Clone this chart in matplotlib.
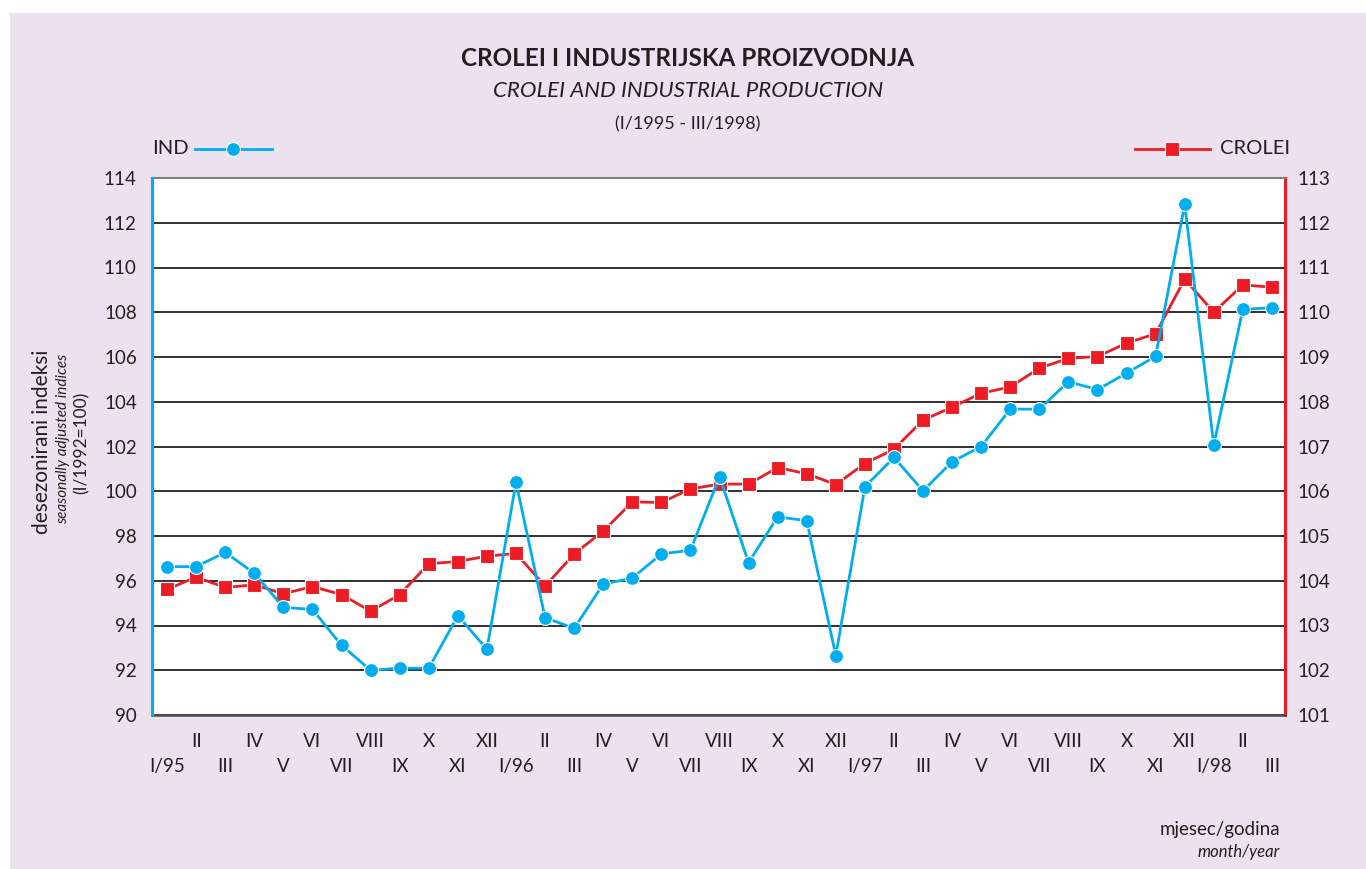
import matplotlib.pyplot as plt
from matplotlib.lines import Line2D
from matplotlib.patches import Rectangle

# ----- data -------------------------------------------------------------------
MONTHS = ["I", "II", "III", "IV", "V", "VI", "VII", "VIII", "IX", "X", "XI", "XII"]
YEARS = ["95", "96", "97", "98"]
N_POINTS = 39  # I/1995 .. III/1998

ind = [96.63, 96.63, 97.27, 96.33, 94.81, 94.72, 93.11, 92.00, 92.09, 92.09,
       94.44, 92.94, 100.40, 94.35, 93.87, 95.85, 96.12, 97.20, 97.36, 100.65,
       96.81, 98.86, 98.68, 92.65, 100.20, 101.51, 100.02, 101.32, 102.00, 103.67,
       103.67, 104.90, 104.54, 105.28, 106.03, 112.82, 102.07, 108.13, 108.20]

crolei = [103.81, 104.08, 103.85, 103.91, 103.71, 103.87, 103.69, 103.32, 103.69, 104.38,
          104.43, 104.55, 104.61, 103.88, 104.60, 105.11, 105.76, 105.75, 106.05, 106.16,
          106.16, 106.53, 106.39, 106.15, 106.62, 106.94, 107.59, 107.88, 108.19, 108.33,
          108.75, 108.97, 109.01, 109.31, 109.52, 110.74, 110.00, 110.61, 110.56]

left_ticks = list(range(90, 115, 2))
right_ticks = list(range(101, 114))
# ------------------------------------------------------------------------------

BLUE = "#00AEEF"
RED = "#ED1C24"
BG = "#ECE2EF"
TXT = "#231F20"

plt.rcParams["font.family"] = ["Lato", "DejaVu Sans"]

labels = []
for i in range(N_POINTS):
    m = MONTHS[i % 12]
    labels.append(f"I/{YEARS[i // 12]}" if i % 12 == 0 else m)
x = list(range(N_POINTS))

fig = plt.figure(figsize=(13.66, 8.69), dpi=100)
fig.patch.set_facecolor("white")
fig.add_artist(Rectangle((10 / 1366, 0), 1, 1 - 13 / 869, transform=fig.transFigure,
                         facecolor=BG, edgecolor="none", zorder=-10))

rect = [152 / 1366, 1 - 715 / 869, (1285 - 152) / 1366, (715 - 178) / 869]
ax2 = fig.add_axes(rect)             # CROLEI, right axis, drawn underneath
ax = fig.add_axes(rect, sharex=ax2)  # IND, left axis, on top
ax2.set_zorder(1)
ax.set_zorder(2)
ax.patch.set_visible(False)
ax2.set_facecolor("white")

ax2.yaxis.tick_right()
ax2.set_ylim(101, 113)
ax2.set_yticks(right_ticks)
ax2.grid(axis="y", color="#231F20", lw=1.3)
ax2.set_axisbelow(True)
ax2.plot(x, crolei, color=RED, lw=2.0, marker="s", ms=10.5, mfc=RED, mec="white",
         mew=0.8, zorder=3, clip_on=False)

ax.set_ylim(90, 114)
ax.set_yticks(left_ticks)
ax.plot(x, ind, color=BLUE, lw=2.0, marker="o", ms=10, mfc=BLUE, mec="white",
        mew=0.8, zorder=3, clip_on=False)

ax.set_xlim(-0.52, 38.45)
ax.set_xticks(x[0::2], labels[0::2])
ax.set_xticks(x[1::2], labels[1::2], minor=True)
ax.tick_params(axis="x", which="major", length=0, pad=31, labelsize=13.5, labelcolor=TXT)
ax.tick_params(axis="x", which="minor", length=0, pad=13, labelsize=13.5, labelcolor=TXT)
ax.tick_params(axis="y", length=0, pad=11, labelsize=13.5, labelcolor=TXT)
ax2.tick_params(axis="y", length=0, pad=9, labelsize=13.5, labelcolor=TXT)
ax2.tick_params(axis="x", which="both", length=0, labelbottom=False)

for a in (ax, ax2):
    for s in a.spines.values():
        s.set_visible(False)
ax.spines["left"].set_visible(True)
ax.spines["left"].set_color(BLUE)
ax.spines["left"].set_linewidth(2.2)
ax2.spines["right"].set_visible(True)
ax2.spines["right"].set_color(RED)
ax2.spines["right"].set_linewidth(2.2)
ax2.spines["bottom"].set_visible(True)
ax2.spines["bottom"].set_color("#4D4D4F")
ax2.spines["bottom"].set_linewidth(1.8)
ax2.spines["top"].set_visible(True)
ax2.spines["top"].set_color("#808080")
ax2.spines["top"].set_linewidth(1.5)

# titles
fig.text(688 / 1366, 1 - 58 / 869, "CROLEI I INDUSTRIJSKA PROIZVODNJA", ha="center",
         va="center", fontsize=17.5, fontweight="bold", color=TXT)
fig.text(688 / 1366, 1 - 91 / 869, "CROLEI AND INDUSTRIAL PRODUCTION", ha="center",
         va="center", fontsize=16, style="italic", color=TXT)
fig.text(688 / 1366, 1 - 124 / 869, "(I/1995 - III/1998)", ha="center",
         va="center", fontsize=13, color=TXT)

# legend, drawn by hand like the original
LEG_Y = 1 - 149 / 869
fig.text(152 / 1366, LEG_Y, "IND", ha="left", va="center", fontsize=14.5, color=TXT)
fig.add_artist(Line2D([195 / 1366, 272 / 1366], [LEG_Y] * 2, color=BLUE, lw=2.0,
                      transform=fig.transFigure))
fig.add_artist(Line2D([233 / 1366], [LEG_Y], color=BLUE, marker="o", ms=10,
                      mec="white", mew=0.8, transform=fig.transFigure))
fig.text(1290 / 1366, LEG_Y, "CROLEI", ha="right", va="center", fontsize=14.5, color=TXT)
fig.add_artist(Line2D([1135 / 1366, 1210 / 1366], [LEG_Y] * 2, color=RED, lw=2.0,
                      transform=fig.transFigure))
fig.add_artist(Line2D([1172 / 1366], [LEG_Y], color=RED, marker="s", ms=10.5,
                      mec="white", mew=0.8, transform=fig.transFigure))

# y axis label, three lines
fig.text(42 / 1366, 1 - 442 / 869, "desezonirani indeksi", rotation=90, ha="center",
         va="center", fontsize=15, color=TXT)
fig.text(63 / 1366, 1 - 439 / 869, "seasonally adjusted indices", rotation=90, ha="center",
         va="center", fontsize=11, style="italic", color=TXT)
fig.text(82 / 1366, 1 - 443 / 869, "(I/1992=100)", rotation=90, ha="center",
         va="center", fontsize=12.5, color=TXT)

# x axis label
fig.text(1280 / 1366, 1 - 830 / 869, "mjesec/godina", ha="right", va="center",
         fontsize=13.5, color=TXT)
fig.text(1280 / 1366, 1 - 852 / 869, "month/year", ha="right", va="center",
         fontsize=12, style="italic", color=TXT)

fig.savefig("out.png", dpi=100, facecolor=fig.get_facecolor())
